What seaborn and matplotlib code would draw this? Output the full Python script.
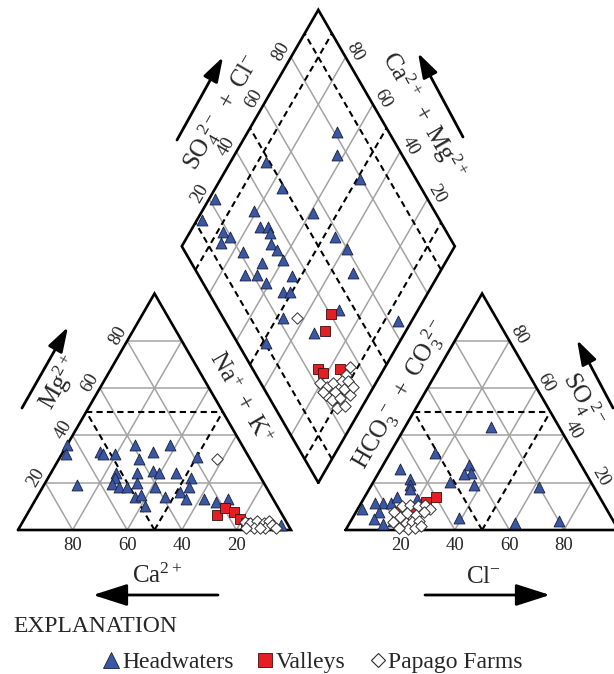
import numpy as np
import pandas as pd
import matplotlib
matplotlib.use("Agg")
import matplotlib.pyplot as plt
from matplotlib.lines import Line2D
import seaborn as sns

# ---------------- data (percent of milliequivalents) ----------------
# Cation triangle (Ca2+, Mg2+; Na+ + K+ is the remainder)
cat_hw_ca = [64, 66.5, 69, 53.5, 53, 48.5, 39, 34, 26.5, 40.5, 19, 52, 53.5, 44.5, 38, 36.5, 30,
             25.5, 56, 54, 51, 46.5, 41, 28.5, 50, 47.5, 48.5, 39, 32.5, 32, 25.5, 21.5, 16.5, 2.5]
cat_hw_mg = [36, 32, 19, 33, 32, 32, 36, 33, 36, 30, 31, 24, 22, 24, 25, 24, 24,
             22, 19.5, 18, 18, 20, 18, 18, 14, 15, 10, 14, 16, 13, 13, 12, 13, 2]
cat_va_ca = [24, 19.5, 17, 16.5, 15]
cat_va_mg = [6.5, 9.5, 7.5, 4.5, 3]
cat_pf_ca = [12, 15, 13.5, 10.5, 13, 8.5, 6, 9, 6, 5, 11, 16]
cat_pf_mg = [30, 3.5, 3, 4, 1, 3, 4, 1, 2, 1, 1, 1]

# Anion triangle (Cl-, SO4 2-; HCO3- + CO3 2- is the remainder)
an_hw_cl = [31.5, 16.5, 7, 13, 14, 15, 31.5, 34, 31.5, 28, 37.5, 62, 1.5, 8, 11, 8.5, 8, 12.5,
            15.5, 12, 39, 60.5, 76, 19.5, 5]
an_hw_so4 = [43.5, 32.5, 26, 21.5, 19, 17.5, 27.5, 24, 23.5, 20.5, 19, 18, 9, 11.5, 11.5, 7.5,
             4.5, 2.5, 4, 14, 5, 3, 4, 13, 11.5]
an_va_cl = [26, 23.5, 18, 21, 15.5]
an_va_so4 = [14, 12, 6, 9, 7.5]
an_pf_cl = [14, 15.5, 18.5, 21.5, 24, 26.5, 17, 19, 22.5, 25, 20.5, 22.5, 25, 22.5, 25, 27, 15.5, 19]
an_pf_so4 = [7.5, 10, 10.5, 10, 10.5, 9, 5.5, 7, 6.5, 7.5, 3, 3.5, 4, 0.5, 1, 1.5, 3.5, 1]

# Diamond (Ca2+ + Mg2+, SO4 2- + Cl-)
dia_hw_camg = [67.5, 62.5, 87, 49, 75.5, 98, 98, 81, 59, 75.5, 72.5, 88, 84.5, 86.5, 70.5, 68, 64.5,
               76.5, 46, 39, 60, 67, 71, 66.5, 53.5, 61.5, 31.5, 53, 50.5, 47.5, 29, 33.5, 5, 48.5]
dia_hw_so4cl = [81, 76, 48.5, 79.5, 49, 22, 13, 34, 55, 32.5, 35.5, 18, 19.5, 15, 35, 33, 34,
                21, 58, 60, 34, 26, 17, 21.5, 34, 23, 57, 27.5, 30, 22, 44, 30, 63.5, 10.5]
dia_va_camg = [31, 29.5, 24, 21.5, 16]
dia_va_so4cl = [40.5, 34.5, 24, 25, 32]
dia_pf_camg = [42.5, 13, 12.5, 20.5, 17, 15.5, 13, 10.5, 15.5, 13, 10.5, 7, 12.5, 10, 9, 6.5, 17.5, 7.5]
dia_pf_so4cl = [27, 36, 33, 21.5, 23.5, 26.5, 30, 32.5, 21.5, 25.5, 29, 30, 22.5, 26, 22.5, 26, 21, 33]

grid_ticks = [20, 40, 60, 80]
groups = ["Headwaters", "Valleys", "Papago Farms"]

# ---------------- style ----------------
sns.set_style("white")
plt.rcParams['font.family'] = ['Liberation Serif', 'DejaVu Serif']
plt.rcParams['mathtext.fontset'] = 'custom'
plt.rcParams['mathtext.rm'] = 'Liberation Serif'
plt.rcParams['mathtext.it'] = 'Liberation Serif:italic'
plt.rcParams['mathtext.bf'] = 'Liberation Serif:bold'

G = 0.2                     # gap between triangles (in side lengths)
H = np.sqrt(3) / 2
SC = 273.0                  # pixels per side length
OX, OY = 18.0, 530.0        # pixel position of cation triangle's left corner
W, HGT = 614, 674


def P(px, py):
    return ((px - OX) / SC, (OY - py) / SC)


def cat_xy(ca, mg):
    ca = np.asarray(ca, float) / 100
    mg = np.asarray(mg, float) / 100
    nak = 1 - ca - mg
    return nak + 0.5 * mg, H * mg


def an_xy(cl, so4):
    cl = np.asarray(cl, float) / 100
    so4 = np.asarray(so4, float) / 100
    return 1 + G + cl + 0.5 * so4, H * so4


def dia_xy(camg, so4cl):
    p = np.asarray(camg, float) / 100
    q = np.asarray(so4cl, float) / 100
    return 1 + G / 2 + (q - p) / 2, H * G + H * (p + q)


fig = plt.figure(figsize=(W / 100, HGT / 100), dpi=100)
ax = fig.add_axes([0, 0, 1, 1])

GREY = dict(color='#a3a3a3', lw=1.1, zorder=1, solid_capstyle='butt')
DASH = dict(color='black', lw=1.5, ls=(0, (3, 2)), zorder=2)
EDGE = dict(color='black', lw=1.9, zorder=3, solid_joinstyle='miter')


def seg(f, a, b, **kw):
    x, y = f([a[0], b[0]], [a[1], b[1]])
    ax.plot(x, y, **kw)


# grid lines
for k in grid_ticks:
    seg(cat_xy, (100 - k, k), (0, k), **GREY)
    seg(cat_xy, (k, 0), (k, 100 - k), **GREY)
    seg(cat_xy, (100 - k, 0), (0, 100 - k), **GREY)
    seg(an_xy, (0, k), (100 - k, k), **GREY)
    seg(an_xy, (k, 0), (k, 100 - k), **GREY)
    seg(an_xy, (100 - k, 0), (0, 100 - k), **GREY)
    seg(dia_xy, (k, 0), (k, 100), **GREY)
    seg(dia_xy, (0, k), (100, k), **GREY)

# dashed facies boundaries
seg(cat_xy, (50, 50), (0, 50), **DASH)
seg(cat_xy, (50, 0), (50, 50), **DASH)
seg(cat_xy, (50, 0), (0, 50), **DASH)
seg(an_xy, (0, 50), (50, 50), **DASH)
seg(an_xy, (50, 0), (50, 50), **DASH)
seg(an_xy, (50, 0), (0, 50), **DASH)
for k in [10, 50, 90]:
    seg(dia_xy, (k, 0), (k, 100), **DASH)
    seg(dia_xy, (0, k), (100, k), **DASH)

# outlines
for f, pts in [(cat_xy, [(100, 0), (0, 0), (0, 100), (100, 0)]),
               (an_xy, [(0, 0), (100, 0), (0, 100), (0, 0)]),
               (dia_xy, [(0, 0), (100, 0), (100, 100), (0, 100), (0, 0)])]:
    a = np.array(pts, float)
    x, y = f(a[:, 0], a[:, 1])
    ax.plot(x, y, **EDGE)

# ---------------- samples ----------------
frames = []


def add(group, xy):
    frames.append(pd.DataFrame({'x': xy[0], 'y': xy[1], 'group': group}))


add("Headwaters", cat_xy(cat_hw_ca, cat_hw_mg))
add("Headwaters", an_xy(an_hw_cl, an_hw_so4))
add("Headwaters", dia_xy(dia_hw_camg, dia_hw_so4cl))
add("Valleys", cat_xy(cat_va_ca, cat_va_mg))
add("Valleys", an_xy(an_va_cl, an_va_so4))
add("Valleys", dia_xy(dia_va_camg, dia_va_so4cl))
add("Papago Farms", cat_xy(cat_pf_ca, cat_pf_mg))
add("Papago Farms", an_xy(an_pf_cl, an_pf_so4))
add("Papago Farms", dia_xy(dia_pf_camg, dia_pf_so4cl))
df = pd.concat(frames, ignore_index=True)

BLUE, RED = '#3a57a6', '#e41e25'
styles = {
    "Headwaters": dict(marker='^', s=62, color=BLUE, edgecolor='#1b1f3a', linewidth=0.6, zorder=5),
    "Valleys": dict(marker='s', s=56, color=RED, edgecolor='#3a0d0d', linewidth=0.6, zorder=6),
    "Papago Farms": dict(marker='D', s=34, color='white', edgecolor='#2e2e2e', linewidth=0.7, zorder=7),
}
for g in groups:
    sns.scatterplot(data=df[df['group'] == g], x='x', y='y', ax=ax, legend=False, **styles[g])

ax.set_xlim(-OX / SC, (W - OX) / SC)
ax.set_ylim((OY - HGT) / SC, OY / SC)
ax.axis('off')

# ---------------- tick labels ----------------
TF = 13.5
off = 11 / SC
for k in grid_ticks:
    x, y = cat_xy(100 - k, k)
    ax.text(x - off * H, y + off * 0.5, str(k), rotation=60, rotation_mode='anchor',
            ha='center', va='center', fontsize=TF)
    x, y = cat_xy(k, 0)
    ax.text(x, y - 15 / SC, str(k), ha='center', va='center', fontsize=TF)
    x, y = an_xy(k, 0)
    ax.text(x, y - 15 / SC, str(k), ha='center', va='center', fontsize=TF)
    x, y = an_xy(100 - k, k)
    ax.text(x + off * H, y + off * 0.5, str(k), rotation=-60, rotation_mode='anchor',
            ha='center', va='center', fontsize=TF)
    x, y = dia_xy(100, k)
    ax.text(x - off * H, y + off * 0.5, str(k), rotation=60, rotation_mode='anchor',
            ha='center', va='center', fontsize=TF)
    x, y = dia_xy(k, 100)
    ax.text(x + off * H, y + off * 0.5, str(k), rotation=-60, rotation_mode='anchor',
            ha='center', va='center', fontsize=TF)

# ---------------- axis titles ----------------
LF = 18
ax.text(*P(60, 383), r'$\mathrm{Mg^{2+}}$', rotation=60, rotation_mode='anchor',
        ha='center', va='center', fontsize=LF)
ax.text(*P(240, 398), r'$\mathrm{Na^{+}\ +\ K^{+}}$', rotation=-60, rotation_mode='anchor',
        ha='center', va='center', fontsize=LF)
ax.text(*P(157, 583), r'$\mathrm{Ca^{2+}}$', ha='center', va='baseline', fontsize=LF)
ax.text(*P(483, 583), r'$\mathrm{Cl^{-}}$', ha='center', va='baseline', fontsize=LF)
ax.text(*P(400, 395), r'$\mathrm{HCO_3^{\ -}\ +\ CO_3^{\ 2-}}$', rotation=60, rotation_mode='anchor',
        ha='center', va='center', fontsize=LF)
ax.text(*P(583, 400), r'$\mathrm{SO_4^{\ 2-}}$', rotation=-60, rotation_mode='anchor',
        ha='center', va='center', fontsize=LF)
ax.text(*P(222, 112), r'$\mathrm{SO_4^{\ 2-}\ +\ Cl^{-}}$', rotation=60, rotation_mode='anchor',
        ha='center', va='center', fontsize=LF)
ax.text(*P(423, 116), r'$\mathrm{Ca^{2+}\ +\ Mg^{2+}}$', rotation=-60, rotation_mode='anchor',
        ha='center', va='center', fontsize=LF)


# ---------------- arrows ----------------
def arrow(tail, head, scale):
    ax.annotate('', xy=P(*head), xytext=P(*tail),
                arrowprops=dict(arrowstyle='-|>,head_length=1.0,head_width=0.32',
                                mutation_scale=scale, lw=2.0, color='black',
                                shrinkA=0, shrinkB=0))


arrow((22, 408), (68, 327), 15)
arrow((177, 140), (223, 57), 15)
arrow((463, 137), (418, 53), 15)
arrow((613, 408), (577, 340), 15)
arrow((218, 595), (93, 595), 21)
arrow((425, 595), (550, 595), 21)

# ---------------- explanation / legend ----------------
fig.text(13 / W, 1 - 627 / HGT, 'EXPLANATION', fontsize=17, ha='left', va='center')
handles = [
    Line2D([], [], ls='', marker='^', markersize=11, markerfacecolor=BLUE, markeredgecolor='#1b1f3a', markeredgewidth=0.6),
    Line2D([], [], ls='', marker='s', markersize=9.5, markerfacecolor=RED, markeredgecolor='#3a0d0d', markeredgewidth=0.6),
    Line2D([], [], ls='', marker='D', markersize=7.5, markerfacecolor='white', markeredgecolor='#2e2e2e', markeredgewidth=0.8),
]
fig.legend(handles, groups, loc='center', bbox_to_anchor=(313 / W, 1 - 662 / HGT), ncol=3,
           frameon=False, fontsize=17, handlelength=0.7, handletextpad=0.1,
           columnspacing=1.0, borderaxespad=0, borderpad=0)

fig.savefig('out.png', dpi=100)
